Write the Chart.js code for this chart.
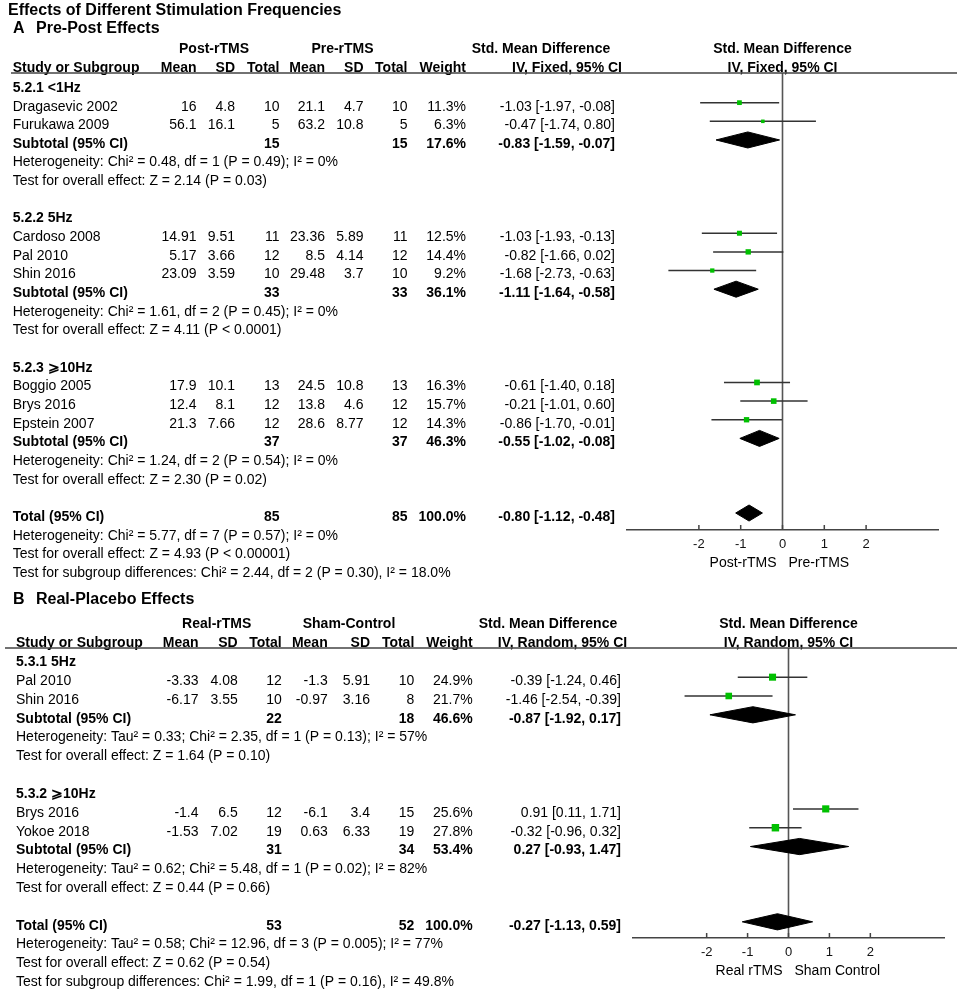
<!DOCTYPE html>
<html>
<head>
<meta charset="utf-8">
<title>Effects of Different Stimulation Frequencies</title>
<script src="https://cdn.jsdelivr.net/npm/chart.js@4.4.1/dist/chart.umd.min.js"></script>
<style>
  html, body { margin: 0; padding: 0; background: #fff; }
  #wrap { position: relative; width: 957px; height: 992px; overflow: hidden; }
  canvas { position: absolute; left: 0; }
  #chartA { top: 0; }
  #chartB { top: 590px; }
</style>
</head>
<body>
<div id="wrap">
  <canvas id="chartA" width="957" height="590"></canvas>
  <canvas id="chartB" width="957" height="402"></canvas>
</div>
<script>
const FONT = '"Liberation Sans", Arial, Helvetica, sans-serif';

/** Panel A: pre-post effects. */
const groupsA = ['5.2.1 <1Hz', '5.2.2 5Hz', '5.2.3 \u2A7E10Hz'];
const groupSizeA = [2, 3, 3];
const studiesA = ['Dragasevic 2002', 'Furukawa 2009', 'Cardoso 2008', 'Pal 2010', 'Shin 2016', 'Boggio 2005', 'Brys 2016', 'Epstein 2007'];
const postMeanA = [16, 56.1, 14.91, 5.17, 23.09, 17.9, 12.4, 21.3];
const postSdA = [4.8, 16.1, 9.51, 3.66, 3.59, 10.1, 8.1, 7.66];
const postNA = [10, 5, 11, 12, 10, 13, 12, 12];
const preMeanA = [21.1, 63.2, 23.36, 8.5, 29.48, 24.5, 13.8, 28.6];
const preSdA = [4.7, 10.8, 5.89, 4.14, 3.7, 10.8, 4.6, 8.77];
const preNA = [10, 5, 11, 12, 10, 13, 12, 12];
const weightA = [11.3, 6.3, 12.5, 14.4, 9.2, 16.3, 15.7, 14.3];
const smdA = [-1.03, -0.47, -1.03, -0.82, -1.68, -0.61, -0.21, -0.86];
const lowA = [-1.97, -1.74, -1.93, -1.66, -2.73, -1.40, -1.01, -1.70];
const highA = [-0.08, 0.80, -0.13, 0.02, -0.63, 0.18, 0.60, -0.01];
const subPostNA = [15, 33, 37];
const subPreNA = [15, 33, 37];
const subWeightA = [17.6, 36.1, 46.3];
const subSmdA = [-0.83, -1.11, -0.55];
const subLowA = [-1.59, -1.64, -1.02];
const subHighA = [-0.07, -0.58, -0.08];
const hetA = [
  'Heterogeneity: Chi\u00B2 = 0.48, df = 1 (P = 0.49); I\u00B2 = 0%',
  'Heterogeneity: Chi\u00B2 = 1.61, df = 2 (P = 0.45); I\u00B2 = 0%',
  'Heterogeneity: Chi\u00B2 = 1.24, df = 2 (P = 0.54); I\u00B2 = 0%'
];
const effectA = [
  'Test for overall effect: Z = 2.14 (P = 0.03)',
  'Test for overall effect: Z = 4.11 (P < 0.0001)',
  'Test for overall effect: Z = 2.30 (P = 0.02)'
];
const totalA = [85, 85, 100.0, -0.80, -1.12, -0.48];
const totalNotesA = [
  'Heterogeneity: Chi\u00B2 = 5.77, df = 7 (P = 0.57); I\u00B2 = 0%',
  'Test for overall effect: Z = 4.93 (P < 0.00001)',
  'Test for subgroup differences: Chi\u00B2 = 2.44, df = 2 (P = 0.30), I\u00B2 = 18.0%'
];
const ticksA = [-2, -1, 0, 1, 2];

/** Panel B: real-placebo effects. */
const groupsB = ['5.3.1 5Hz', '5.3.2 \u2A7E10Hz'];
const groupSizeB = [2, 2];
const studiesB = ['Pal 2010', 'Shin 2016', 'Brys 2016', 'Yokoe 2018'];
const realMeanB = [-3.33, -6.17, -1.4, -1.53];
const realSdB = [4.08, 3.55, 6.5, 7.02];
const realNB = [12, 10, 12, 19];
const shamMeanB = [-1.3, -0.97, -6.1, 0.63];
const shamSdB = [5.91, 3.16, 3.4, 6.33];
const shamNB = [10, 8, 15, 19];
const weightB = [24.9, 21.7, 25.6, 27.8];
const smdB = [-0.39, -1.46, 0.91, -0.32];
const lowB = [-1.24, -2.54, 0.11, -0.96];
const highB = [0.46, -0.39, 1.71, 0.32];
const subRealNB = [22, 31];
const subShamNB = [18, 34];
const subWeightB = [46.6, 53.4];
const subSmdB = [-0.87, 0.27];
const subLowB = [-1.92, -0.93];
const subHighB = [0.17, 1.47];
const hetB = [
  'Heterogeneity: Tau\u00B2 = 0.33; Chi\u00B2 = 2.35, df = 1 (P = 0.13); I\u00B2 = 57%',
  'Heterogeneity: Tau\u00B2 = 0.62; Chi\u00B2 = 5.48, df = 1 (P = 0.02); I\u00B2 = 82%'
];
const effectB = [
  'Test for overall effect: Z = 1.64 (P = 0.10)',
  'Test for overall effect: Z = 0.44 (P = 0.66)'
];
const totalB = [53, 52, 100.0, -0.27, -1.13, 0.59];
const totalNotesB = [
  'Heterogeneity: Tau\u00B2 = 0.58; Chi\u00B2 = 12.96, df = 3 (P = 0.005); I\u00B2 = 77%',
  'Test for overall effect: Z = 0.62 (P = 0.54)',
  'Test for subgroup differences: Chi\u00B2 = 1.99, df = 1 (P = 0.16), I\u00B2 = 49.8%'
];
const ticksB = [-2, -1, 0, 1, 2];

/** Bundle the arrays the drawing code needs. */
const panelA = {
  letter: 'A', title: 'Pre-Post Effects', arms: ['Post-rTMS', 'Pre-rTMS'], method: 'IV, Fixed, 95% CI',
  sides: ['Post-rTMS', 'Pre-rTMS'], ticks: ticksA,
  groups: groupsA, groupSize: groupSizeA, studies: studiesA,
  m1: postMeanA, s1: postSdA, n1: postNA, m2: preMeanA, s2: preSdA, n2: preNA,
  weight: weightA, smd: smdA, low: lowA, high: highA,
  subN1: subPostNA, subN2: subPreNA, subWeight: subWeightA, subSmd: subSmdA, subLow: subLowA, subHigh: subHighA,
  het: hetA, effect: effectA, total: totalA, totalNotes: totalNotesA
};
const panelB = {
  letter: 'B', title: 'Real-Placebo Effects', arms: ['Real-rTMS', 'Sham-Control'], method: 'IV, Random, 95% CI',
  sides: ['Real rTMS', 'Sham Control'], ticks: ticksB,
  groups: groupsB, groupSize: groupSizeB, studies: studiesB,
  m1: realMeanB, s1: realSdB, n1: realNB, m2: shamMeanB, s2: shamSdB, n2: shamNB,
  weight: weightB, smd: smdB, low: lowB, high: highB,
  subN1: subRealNB, subN2: subShamNB, subWeight: subWeightB, subSmd: subSmdB, subLow: subLowB, subHigh: subHighB,
  het: hetB, effect: effectB, total: totalB, totalNotes: totalNotesB
};

/** Layout of each panel (pixels). */
const layoutA = {
  title: 'Effects of Different Stimulation Frequencies', titleY: 10.5, panelY: 28.5,
  nameX: 12.7, lineLeft: 11,
  cols: [196.5, 235, 279.5, 325, 363.5, 407.5, 466, 615],
  headCenters: [214, 342.5, 541], ivCenter: 567,
  padding: { left: 627, right: 19, top: 73, bottom: 0 }, axisHeight: 60,
  xMin: -3.72, xMax: 3.72, yMin: -0.59, yMax: 23.91
};
const layoutB = {
  title: null, titleY: 0, panelY: 10,
  nameX: 16, lineLeft: 5,
  cols: [198.5, 237.7, 281.7, 327.7, 370, 414.3, 472.7, 621],
  headCenters: [216.7, 349, 548], ivCenter: 562.5,
  padding: { left: 633, right: 13, top: 58, bottom: 0 }, axisHeight: 54,
  xMin: -3.8, xMax: 3.8, yMin: -0.55, yMax: 14.86
};

const DIAMOND_HALF = 0.43;
const TEXT_SHIFT = 4;

/** Lay out the rows of one panel. */
function buildRows(p) {
  const rows = [];
  let r = 0, s = 0;
  p.groups.forEach((g, gi) => {
    rows.push({ kind: 'group', r: r++, text: g });
    for (let k = 0; k < p.groupSize[gi]; k++, s++) rows.push({ kind: 'study', r: r++, i: s });
    rows.push({ kind: 'sub', r: r++, i: gi });
    rows.push({ kind: 'note', r: r++, text: p.het[gi] });
    rows.push({ kind: 'note', r: r++, text: p.effect[gi] });
    r++;
  });
  rows.push({ kind: 'total', r: r++ });
  p.totalNotes.forEach((t) => rows.push({ kind: 'note', r: r++, text: t }));
  return rows;
}

const f2 = (v) => v.toFixed(2);
const ciText = (e, lo, hi) => f2(e) + ' [' + f2(lo) + ', ' + f2(hi) + ']';

/** Build the Chart.js datasets. */
function buildDatasets(p, rows) {
  const size = (c) => (c.raw ? Math.sqrt(c.raw.w) : 0);
  const markers = { type: 'scatter', data: [], pointStyle: 'rect', backgroundColor: '#00c000', borderWidth: 0,
    pointRadius: size, pointHoverRadius: size };
  const lines = [];
  rows.forEach((row) => {
    if (row.kind === 'study') {
      markers.data.push({ x: p.smd[row.i], y: row.r, w: p.weight[row.i] });
      lines.push({ type: 'line', data: [{ x: p.low[row.i], y: row.r }, { x: p.high[row.i], y: row.r }],
        borderColor: '#333', borderWidth: 1.5, pointRadius: 0, fill: false, tension: 0 });
    } else if (row.kind === 'sub' || row.kind === 'total') {
      const e = row.kind === 'sub' ? p.subSmd[row.i] : p.total[3];
      const lo = row.kind === 'sub' ? p.subLow[row.i] : p.total[4];
      const hi = row.kind === 'sub' ? p.subHigh[row.i] : p.total[5];
      lines.push({ type: 'line', data: [
        { x: lo, y: row.r }, { x: e, y: row.r - DIAMOND_HALF }, { x: hi, y: row.r },
        { x: e, y: row.r + DIAMOND_HALF }, { x: lo, y: row.r }],
        borderColor: '#000', backgroundColor: '#000', borderWidth: 1, pointRadius: 0, fill: 'shape', tension: 0 });
    }
  });
  return [markers].concat(lines);
}

/** Plugin drawing the table text, zero line, header rule and tick marks. */
function forestPlugin(p, rows, L) {
  return {
    id: 'forest' + p.letter,
    beforeDatasetsDraw(chart) {
      const { ctx, chartArea, scales } = chart;
      const x0 = scales.x.getPixelForValue(0);
      ctx.save();
      ctx.strokeStyle = '#555';
      ctx.lineWidth = 1.6;
      ctx.beginPath();
      ctx.moveTo(x0, chartArea.top);
      ctx.lineTo(x0, chartArea.bottom);
      ctx.stroke();
      ctx.restore();
    },
    afterDraw(chart) {
      const { ctx, chartArea, scales } = chart;
      const x0 = scales.x.getPixelForValue(0);
      const txt = (t, x, y, align, bold, size) => {
        ctx.font = (bold ? 'bold ' : '') + (size || 14) + 'px ' + FONT;
        ctx.textAlign = align;
        ctx.fillText(t, x, y);
      };
      ctx.save();
      ctx.fillStyle = '#000';
      ctx.textBaseline = 'middle';

      /** Titles. */
      if (L.title) txt(L.title, 8, L.titleY, 'left', true, 16);
      txt(p.letter, 13, L.panelY, 'left', true, 16);
      txt(p.title, 36, L.panelY, 'left', true, 16);

      /** Headers. */
      const h1 = chartArea.top - 24, h2 = chartArea.top - 5;
      txt(p.arms[0], L.headCenters[0], h1, 'center', true);
      txt(p.arms[1], L.headCenters[1], h1, 'center', true);
      txt('Std. Mean Difference', L.headCenters[2], h1, 'center', true);
      txt('Std. Mean Difference', x0, h1, 'center', true);
      txt('Study or Subgroup', L.nameX, h2, 'left', true);
      ['Mean', 'SD', 'Total', 'Mean', 'SD', 'Total', 'Weight'].forEach((h, k) => txt(h, L.cols[k], h2, 'right', true));
      txt(p.method, L.ivCenter, h2, 'center', true);
      txt(p.method, x0, h2, 'center', true);

      /** Rows. */
      rows.forEach((row) => {
        const y = scales.y.getPixelForValue(row.r) + TEXT_SHIFT;
        if (row.kind === 'group') {
          txt(row.text, L.nameX, y, 'left', true);
        } else if (row.kind === 'note') {
          txt(row.text, L.nameX, y, 'left', false);
        } else if (row.kind === 'study') {
          const i = row.i;
          txt(p.studies[i], L.nameX, y, 'left', false);
          [p.m1[i], p.s1[i], p.n1[i], p.m2[i], p.s2[i], p.n2[i]].forEach((v, k) => txt(String(v), L.cols[k], y, 'right', false));
          txt(p.weight[i].toFixed(1) + '%', L.cols[6], y, 'right', false);
          txt(ciText(p.smd[i], p.low[i], p.high[i]), L.cols[7], y, 'right', false);
        } else if (row.kind === 'sub') {
          const i = row.i;
          txt('Subtotal (95% CI)', L.nameX, y, 'left', true);
          txt(String(p.subN1[i]), L.cols[2], y, 'right', true);
          txt(String(p.subN2[i]), L.cols[5], y, 'right', true);
          txt(p.subWeight[i].toFixed(1) + '%', L.cols[6], y, 'right', true);
          txt(ciText(p.subSmd[i], p.subLow[i], p.subHigh[i]), L.cols[7], y, 'right', true);
        } else if (row.kind === 'total') {
          const t = p.total;
          txt('Total (95% CI)', L.nameX, y, 'left', true);
          txt(String(t[0]), L.cols[2], y, 'right', true);
          txt(String(t[1]), L.cols[5], y, 'right', true);
          txt(t[2].toFixed(1) + '%', L.cols[6], y, 'right', true);
          txt(ciText(t[3], t[4], t[5]), L.cols[7], y, 'right', true);
        }
      });

      /** Direction labels under the axis. */
      txt(p.sides[0], x0 - 6, chartArea.bottom + 33, 'right', false);
      txt(p.sides[1], x0 + 6, chartArea.bottom + 33, 'left', false);

      /** Header rule and tick marks. */
      ctx.strokeStyle = '#444';
      ctx.lineWidth = 1.5;
      ctx.beginPath();
      ctx.moveTo(L.lineLeft, chartArea.top);
      ctx.lineTo(chart.width, chartArea.top);
      scales.x.ticks.forEach((t) => {
        const x = scales.x.getPixelForValue(t.value);
        ctx.moveTo(x, chartArea.bottom - 5);
        ctx.lineTo(x, chartArea.bottom);
      });
      ctx.stroke();
      ctx.restore();
    }
  };
}

/** Create one forest plot. */
function makeChart(id, p, L) {
  const rows = buildRows(p);
  const canvas = document.getElementById(id).getContext('2d');
  return new Chart(canvas, {
    type: 'scatter',
    data: { datasets: buildDatasets(p, rows) },
    options: {
      responsive: false,
      animation: false,
      layout: { padding: L.padding },
      plugins: { legend: { display: false }, tooltip: { enabled: false } },
      scales: {
        x: {
          type: 'linear',
          min: L.xMin,
          max: L.xMax,
          afterBuildTicks: (scale) => { scale.ticks = p.ticks.map((v) => ({ value: v })); },
          afterFit: (scale) => { scale.height = L.axisHeight; },
          grid: { display: false, drawTicks: false },
          border: { display: true, color: '#444', width: 1.5 },
          ticks: { color: '#111', padding: 7, font: { family: FONT, size: 13 } }
        },
        y: { type: 'linear', reverse: true, min: L.yMin, max: L.yMax, display: false }
      }
    },
    plugins: [forestPlugin(p, rows, L)]
  });
}

makeChart('chartA', panelA, layoutA);
makeChart('chartB', panelB, layoutB);
</script>
</body>
</html>
